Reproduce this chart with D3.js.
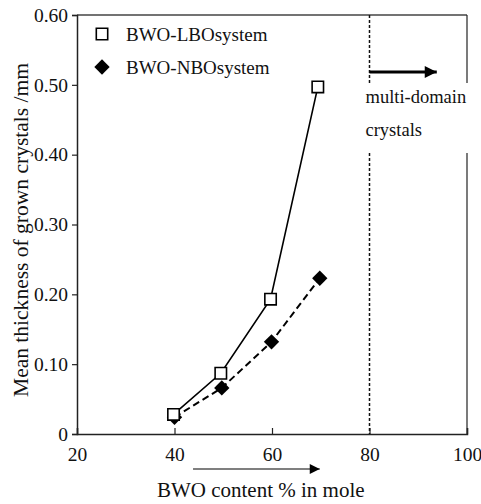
<!DOCTYPE html>
<html>
<head>
<meta charset="utf-8">
<script src="https://cdn.jsdelivr.net/npm/d3@7"></script>
<style>
  body { margin: 0; background: #fff; }
  svg text { font-family: 'Liberation Serif', 'DejaVu Serif', serif !important; fill: #111; }
</style>
</head>
<body>
<div id="chart"></div>
<script>
// data
var lboX = [39.8, 49.5, 59.7, 69.4];
var lboY = [0.028, 0.087, 0.193, 0.497];
var nboX = [40.0, 49.7, 59.9, 69.8];
var nboY = [0.024, 0.066, 0.132, 0.223];
var xTicks = [20, 40, 60, 80, 100];
var yTicks = [0, 0.1, 0.2, 0.3, 0.4, 0.5, 0.6];
var seriesNames = ["BWO-LBOsystem", "BWO-NBOsystem"];
var boundaryX = 80;

var svgWidth = 481;
var svgHeight = 504;
var margin = { top: 15, right: 14, bottom: 70, left: 77 };
var width = svgWidth - margin.left - margin.right;
var height = svgHeight - margin.top - margin.bottom;

var svg = d3.select("#chart").append("svg")
    .attr("width", svgWidth)
    .attr("height", svgHeight);

var chart = svg.append("g")
    .attr("transform", `translate(${margin.left}, ${margin.top})`);

var x = d3.scaleLinear().domain([20, 100]).range([0, width]);
var y = d3.scaleLinear().domain([0, 0.6]).range([height, 0]);

// frame: top and right (right has a gap behind the label)
var gapTop = 68, gapBottom = 138;
chart.append("line").attr("x1", 0).attr("x2", width).attr("y1", 0).attr("y2", 0)
    .attr("stroke", "#444").attr("stroke-width", 1.5);
chart.append("line").attr("x1", width).attr("x2", width).attr("y1", 0).attr("y2", gapTop)
    .attr("stroke", "#222").attr("stroke-width", 1.2);
chart.append("line").attr("x1", width).attr("x2", width).attr("y1", gapBottom).attr("y2", height)
    .attr("stroke", "#222").attr("stroke-width", 1.2);

// axes
var xAxis = chart.append("g")
    .attr("transform", `translate(0, ${height})`)
    .call(d3.axisBottom(x).tickValues(xTicks).tickSize(-6).tickPadding(13).tickFormat(d3.format("d")));
var yAxis = chart.append("g")
    .call(d3.axisLeft(y).tickValues(yTicks).tickSize(5).tickPadding(4)
        .tickFormat(d => d === 0 ? "0" : d3.format(".2f")(d)));

[xAxis, yAxis].forEach(function(a) {
    a.attr("font-family", null);
    a.select(".domain").attr("stroke", "#222").attr("stroke-width", 1.5);
    a.selectAll(".tick line").attr("stroke", "#222").attr("stroke-width", 1.2);
    a.selectAll(".tick text").attr("font-size", "19.5px").attr("fill", "#111");
});
xAxis.selectAll(".tick text").attr("dy", "0.71em");

// boundary at 80 %
chart.append("line").attr("x1", x(boundaryX)).attr("x2", x(boundaryX))
    .attr("y1", 0).attr("y2", gapTop)
    .attr("stroke", "#111").attr("stroke-width", 1.5).attr("stroke-dasharray", "3,2");
chart.append("line").attr("x1", x(boundaryX)).attr("x2", x(boundaryX))
    .attr("y1", gapBottom).attr("y2", height)
    .attr("stroke", "#111").attr("stroke-width", 1.5).attr("stroke-dasharray", "3,2");

var defs = svg.append("defs");
defs.append("marker").attr("id", "head").attr("viewBox", "0 0 10 10")
    .attr("refX", 10).attr("refY", 5).attr("markerUnits", "userSpaceOnUse")
    .attr("markerWidth", 16).attr("markerHeight", 12).attr("orient", "auto")
    .append("path").attr("d", "M0,0L10,5L0,10Z").attr("fill", "#000");
defs.append("marker").attr("id", "head2").attr("viewBox", "0 0 10 10")
    .attr("refX", 10).attr("refY", 5).attr("markerUnits", "userSpaceOnUse")
    .attr("markerWidth", 13).attr("markerHeight", 10).attr("orient", "auto")
    .append("path").attr("d", "M0,0L10,5L0,10Z").attr("fill", "#000");

// arrow to the right of the boundary
chart.append("line").attr("x1", x(boundaryX)).attr("x2", x(93.8))
    .attr("y1", 57).attr("y2", 57)
    .attr("stroke", "#000").attr("stroke-width", 3).attr("marker-end", "url(#head)");

chart.append("text").attr("x", x(boundaryX) - 4).attr("y", 88)
    .attr("font-size", "18.5px").text("multi-domain");
chart.append("text").attr("x", x(boundaryX) - 4).attr("y", 121)
    .attr("font-size", "18.5px").text("crystals");

// arrow under the x axis
chart.append("line").attr("x1", x(43.8)).attr("x2", x(69.8))
    .attr("y1", height + 35).attr("y2", height + 35)
    .attr("stroke", "#555").attr("stroke-width", 1.5).attr("marker-end", "url(#head2)");

// series
var lbo = lboX.map((d, i) => ({ x: d, y: lboY[i] }));
var nbo = nboX.map((d, i) => ({ x: d, y: nboY[i] }));
var line = d3.line().x(d => x(d.x)).y(d => y(d.y));

chart.append("path").datum(nbo).attr("d", line)
    .attr("fill", "none").attr("stroke", "#000").attr("stroke-width", 2)
    .attr("stroke-dasharray", "7,4");
chart.append("path").datum(lbo).attr("d", line)
    .attr("fill", "none").attr("stroke", "#000").attr("stroke-width", 1.6);

var diamond = d3.symbol().type(d3.symbolDiamond2).size(150);
var square = d3.symbol().type(d3.symbolSquare).size(130);

chart.selectAll(".nbo").data(nbo).enter().append("path")
    .attr("class", "nbo")
    .attr("transform", d => `translate(${x(d.x)}, ${y(d.y)})`)
    .attr("d", diamond).attr("fill", "#000");
chart.selectAll(".lbo").data(lbo).enter().append("path")
    .attr("class", "lbo")
    .attr("transform", d => `translate(${x(d.x)}, ${y(d.y)})`)
    .attr("d", square).attr("fill", "#fff").attr("stroke", "#000").attr("stroke-width", 1.6);

// legend
var legend = chart.append("g").attr("transform", "translate(25, 19)");
legend.append("path").attr("d", square).attr("fill", "#fff")
    .attr("stroke", "#000").attr("stroke-width", 1.6);
legend.append("text").attr("x", 24).attr("y", 7).attr("font-size", "19px").text(seriesNames[0]);
legend.append("path").attr("transform", "translate(0, 33)").attr("d", diamond).attr("fill", "#000");
legend.append("text").attr("x", 24).attr("y", 40).attr("font-size", "19px").text(seriesNames[1]);

// axis titles
svg.append("text")
    .attr("x", margin.left + x(57.7)).attr("y", 497)
    .attr("text-anchor", "middle").attr("font-size", "21px")
    .text("BWO content % in mole");
svg.append("text")
    .attr("transform", "translate(28, 230) rotate(-90)")
    .attr("text-anchor", "middle").attr("font-size", "21px")
    .attr("textLength", 334).attr("lengthAdjust", "spacingAndGlyphs")
    .text("Mean thickness of grown crystals /mm");
</script>
</body>
</html>
